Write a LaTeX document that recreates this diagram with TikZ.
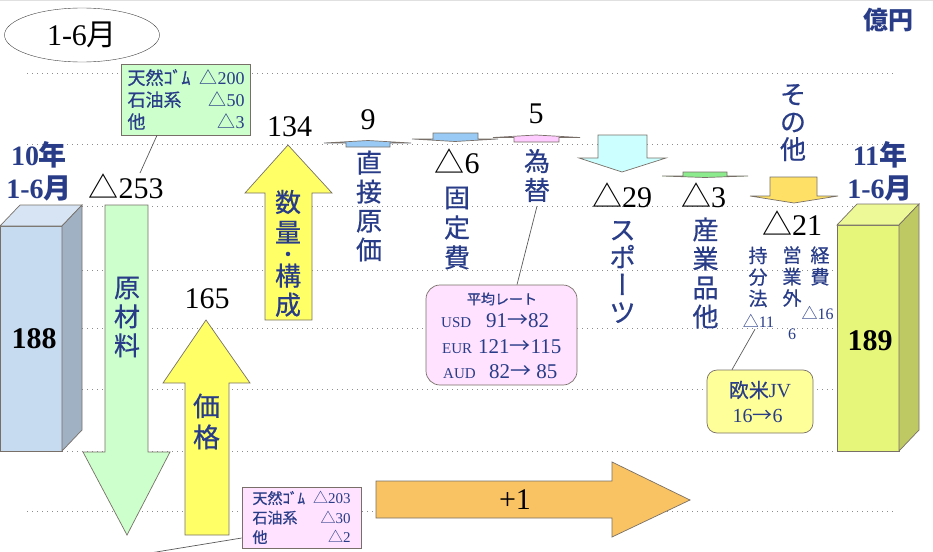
\documentclass[tikz,border=0pt]{standalone}
\usepackage{fontspec}
\setmainfont{Liberation Serif}
\newfontfamily\jp{Noto Sans CJK JP}
\newfontfamily\jpm[FakeBold=0.6]{Noto Sans CJK JP}
\newfontfamily\jpv[RawFeature=+vert,FakeBold=0.6]{Noto Sans CJK JP}
\usetikzlibrary{shapes.geometric}

\definecolor{jpblue}{RGB}{40,60,135}
\definecolor{edgegray}{RGB}{120,112,104}
\definecolor{rawgreen}{RGB}{204,255,204}
\definecolor{upyellow}{RGB}{255,255,102}
\definecolor{sportcyan}{RGB}{204,255,255}
\definecolor{othergold}{RGB}{255,224,102}
\definecolor{plusorange}{RGB}{249,194,98}
\definecolor{ratepink}{RGB}{255,226,255}
\definecolor{jvyellow}{RGB}{255,255,153}
\definecolor{costblue}{RGB}{153,202,245}
\definecolor{fxpink}{RGB}{255,204,255}
\definecolor{indgreen}{RGB}{140,235,140}
\definecolor{bluefront}{RGB}{198,218,240}
\definecolor{bluetop}{RGB}{214,228,244}
\definecolor{blueside}{RGB}{160,177,196}
\definecolor{limefront}{RGB}{230,246,122}
\definecolor{limetop}{RGB}{236,249,150}
\definecolor{limeside}{RGB}{190,201,100}

\begin{document}
\begin{tikzpicture}[x=1pt,y=-1pt,
  block/.style={draw=edgegray,line width=0.7pt},
  gridline/.style={black!45,line width=0.9pt,dash pattern=on 1pt off 4pt},
  num/.style={font=\fontsize{30}{30}\selectfont,anchor=base,inner sep=0pt},
  vlab/.style={font=\jpm\fontsize{26}{29}\selectfont,text=jpblue,align=center,inner sep=0pt},
  slab/.style={font=\jpm\fontsize{19}{21.5}\selectfont,text=jpblue,align=center,inner sep=0pt},
  infobox/.style={draw=edgegray,line width=0.7pt,text=jpblue,align=center,inner sep=0pt},
  rate/.style={anchor=base west,inner sep=0pt,text=jpblue},
  leader/.style={draw=black!65,line width=0.7pt}]

  \useasboundingbox (0,0) rectangle (933,551);
  \fill[black!12] (0,0) rectangle (933,1.5);

  % dotted scale lines
  \foreach \gy in {73,144,206,270,328,389,451,511}
    \draw[gridline] (27,\gy) -- (893,\gy);

  \node[draw=black!75,ellipse,minimum width=155pt,minimum height=54pt,inner sep=0pt,
    font=\fontsize{30}{30}\selectfont] (period) at (82,35) {1-6{\jp 月}};
  \node[font=\jp\bfseries\fontsize{25}{25}\selectfont,text=jpblue] (unit) at (888,20) {億円};

  % 10年 bar
  \draw[block,fill=bluefront] (0,226) rectangle (62,451);
  \draw[block,fill=bluetop] (0,226) -- (20,205) -- (82,205) -- (62,226) -- cycle;
  \draw[block,fill=blueside] (62,226) -- (82,205) -- (82,430) -- (62,451) -- cycle;
  \node[num,font=\bfseries\fontsize{30}{30}\selectfont] (v188) at (34,348) {188};
  \node[align=center,font=\bfseries\fontsize{28}{33}\selectfont,text=jpblue] (yr10) at (39,171) {10{\jp 年}\\1-6{\jp 月}};

  % 11年 bar
  \draw[block,fill=limefront] (837,225) rectangle (899,451);
  \draw[block,fill=limetop] (837,225) -- (857,204) -- (919,204) -- (899,225) -- cycle;
  \draw[block,fill=limeside] (899,225) -- (919,204) -- (919,430) -- (899,451) -- cycle;
  \node[num,font=\bfseries\fontsize{30}{30}\selectfont] (v189) at (870,350) {189};
  \node[align=center,font=\bfseries\fontsize{28}{33}\selectfont,text=jpblue] (yr11) at (880,171) {11{\jp 年}\\1-6{\jp 月}};

  % raw material
  \draw[block,fill=rawgreen] (105,205) -- (148,205) -- (148,452) -- (170,452) -- (127,535) -- (83,452) -- (105,452) -- cycle;
  \node[vlab] (genzai) at (127,317) {原\\材\\料};
  \node[num] (d253) at (126,198) {{\jp △}253};
  \node[infobox,fill=rawgreen,minimum width=129pt,minimum height=71pt,
    font=\fontsize{18}{22}\selectfont] (rawbox) at (186,99.5)
    {\makebox[117pt]{{\jpm 天然ｺﾞﾑ}\hfill{\jp △}200}\\
     \makebox[117pt]{{\jpm 石油系}\hfill{\jp △}50}\\
     \makebox[117pt]{{\jpm 他}\hfill{\jp △}3}};

  % price
  \draw[block,fill=upyellow] (185,535) -- (229,535) -- (229,383) -- (250,383) -- (206,320) -- (163,383) -- (185,383) -- cycle;
  \node[vlab,font=\jpm\fontsize{27}{31}\selectfont] (kakaku) at (206.5,421.5) {価\\格};
  \node[num] (n165) at (207,308) {165};
  \node[infobox,fill=ratepink,minimum width=119pt,minimum height=61pt,
    font=\fontsize{15}{19.5}\selectfont] (rawbox2) at (301.5,517.5)
    {\makebox[98pt]{{\jpm 天然ｺﾞﾑ}\hfill{\jp △}203}\\
     \makebox[98pt]{{\jpm 石油系}\hfill{\jp △}30}\\
     \makebox[98pt]{{\jpm 他}\hfill{\jp △}2}};
  \coordinate (offleft) at (150,553);

  % volume / mix
  \draw[block,fill=upyellow] (265,320) -- (312,320) -- (312,193) -- (332,193) -- (288,145) -- (245,193) -- (265,193) -- cycle;
  \node[vlab] (suryo) at (288,253.4)
    {数\\[1pt]量\\[-9.3pt]{\fontsize{20}{29}\selectfont\smash{・}}\\[-5pt]構\\成};
  \node[num] (n134) at (289.5,136) {134};

  % direct cost
  \draw[block,fill=costblue] (346,147) -- (346,143) -- (324,143) -- (368,140.5) -- (411,143) -- (390,143) -- (390,147) -- cycle;
  \node[num] (n9) at (368,129) {9};
  \node[vlab] (chokusetsu) at (369,206) {直\\接\\原\\価};

  % fixed cost
  \draw[block,fill=costblue] (433,133) -- (478,133) -- (478,139) -- (498,139) -- (455,141.5) -- (412,139) -- (433,139) -- cycle;
  \node[num] (d6) at (457,173) {{\jp △}6};
  \node[vlab,font=\jpm\fontsize{26}{30}\selectfont] (kotei) at (457,228) {固\\定\\費};

  % exchange
  \draw[block,fill=fxpink] (514,142) -- (514,137.5) -- (493,137.5) -- (536,135) -- (580,137.5) -- (559,137.5) -- (559,142) -- cycle;
  \node[num] (n5) at (536,123) {5};
  \node[vlab] (kawase) at (537,175.5) {為\\替};
  \node[draw=edgegray,line width=0.7pt,fill=ratepink,rounded corners=14pt,
    minimum width=151pt,minimum height=100pt] (ratebox) at (501.5,335) {};
  \node[font=\jpm\fontsize{14}{14}\selectfont,text=jpblue,inner sep=0pt] (ratehead) at (502,299) {平均レート};
  \node[rate,font=\fontsize{15}{15}\selectfont] (usd) at (441,327) {USD};
  \node[rate,font=\fontsize{21}{21}\selectfont] (usdval) at (486,327) {91{\jp →}82};
  \node[rate,font=\fontsize{15}{15}\selectfont] (eur) at (442,353) {EUR};
  \node[rate,font=\fontsize{21}{21}\selectfont] (eurval) at (478,353) {121{\jp →}115};
  \node[rate,font=\fontsize{15}{15}\selectfont] (aud) at (443,378) {AUD};
  \node[rate,font=\fontsize{21}{21}\selectfont] (audval) at (489,378) {82{\jp →} 85};

  % sports
  \draw[block,fill=sportcyan] (598,135) -- (647,135) -- (647,158) -- (666,158) -- (622,172) -- (579,158) -- (598,158) -- cycle;
  \node[num] (d29) at (622,207) {{\jp △}29};
  \node[vlab,font=\jpv\fontsize{27}{27.5}\selectfont] (sports) at (622.5,272) {ス\\ポ\\ー\\ツ};

  % industrial
  \draw[block,fill=indgreen] (683,172) -- (727,172) -- (727,176) -- (748,176) -- (705,177.5) -- (662,176) -- (683,176) -- cycle;
  \node[num] (d3) at (703.5,207) {{\jp △}3};
  \node[vlab] (sangyo) at (705.5,273) {産\\業\\品\\他};

  % others
  \draw[block,fill=othergold] (770,177) -- (817,177) -- (817,196) -- (838,196) -- (794,203) -- (750,196) -- (770,196) -- cycle;
  \node[vlab,font=\jpm\fontsize{26}{27.5}\selectfont] (sonota) at (793,122.5) {そ\\の\\他};
  \node[num] (d21) at (792,235) {{\jp △}21};
  \node[slab] (mochibun) at (758,277) {持\\分\\法};
  \node[slab] (eigyogai) at (792,276.5) {営\\業\\外};
  \node[slab] (keihi) at (820,266) {経\\費};
  \node[rate,anchor=base,font=\fontsize{16}{16}\selectfont] (d11) at (758.5,327) {{\jp △}11};
  \node[rate,anchor=base,font=\fontsize{16}{16}\selectfont] (d16) at (817.5,319) {{\jp △}16};
  \node[rate,anchor=base,font=\fontsize{16}{16}\selectfont] (n6) at (792,339) {6};
  \node[draw=edgegray,line width=0.7pt,fill=jvyellow,rounded corners=10pt,
    minimum width=106pt,minimum height=63pt] (jvbox) at (760,401.5) {};
  \node[font=\fontsize{20}{20}\selectfont,text=jpblue,inner sep=0pt] (jvname) at (760,390) {{\jpm 欧米}JV};
  \node[rate,anchor=base,font=\fontsize{20}{20}\selectfont] (jvrate) at (757.5,422) {16{\jp →}6};

  % total change
  \draw[block,fill=plusorange] (376,481) -- (612,481) -- (612,462) -- (690,500) -- (612,537) -- (612,518) -- (376,518) -- cycle;
  \node[num] (plus1) at (515,509) {+1};

  % leaders
  \path[leader]
    ([xshift=-29pt]rawbox.south) edge ([xshift=14pt]d253.north)
    ([yshift=-4pt]kawase.south) edge ([xshift=15.5pt]ratebox.north)
    ([xshift=-3.5pt,yshift=-2pt]d11.south) edge ([xshift=-28pt]jvbox.north)
    ([yshift=-20.5pt]rawbox2.west) edge (offleft);

\end{tikzpicture}
\end{document}
